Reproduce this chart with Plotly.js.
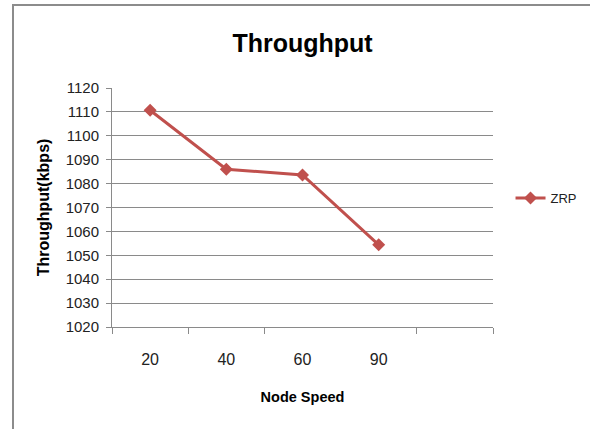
<!DOCTYPE html>
<html>
<head>
<meta charset="utf-8">
<script src="https://cdn.plot.ly/plotly-3.0.1.min.js"></script>
<style>
  html, body { margin: 0; padding: 0; background: #fff; }
  #wrap { position: relative; width: 590px; height: 429px; }
  #chart { width: 590px; height: 429px; }
  #frame { position: absolute; left: 12px; top: 4px; right: 0; bottom: 0;
           border-top: 2px solid #8c8c8c; border-left: 2px solid #8c8c8c;
           pointer-events: none; }
</style>
</head>
<body>
<div id="wrap">
  <div id="chart"></div>
  <div id="frame"></div>
</div>
<script>
// Data
const categories = ['20', '40', '60', '90'];
const zrpThroughput = [1110.7, 1086.0, 1083.6, 1054.4];
const seriesName = 'ZRP';
const yTicks = [1020, 1030, 1040, 1050, 1060, 1070, 1080, 1090, 1100, 1110, 1120];
// category boundaries that show tick marks in the reference (slot count = 5)
const slotCount = 5;
const boundaryTicks = [0.5, 1.5, 2.5, 4.5, 5.5];

const xPos = categories.map((c, i) => i + 1);

const trace = {
  x: xPos,
  y: zrpThroughput,
  name: seriesName,
  type: 'scatter',
  mode: 'lines+markers',
  line: { color: '#C0504D', width: 3 },
  marker: { symbol: 'diamond', size: 10, color: '#C0504D' },
  hoverinfo: 'x+y'
};

const gray = '#8a8a8a';

const layout = {
  width: 590,
  height: 429,
  margin: { l: 112, r: 97, t: 88, b: 102, autoexpand: false },
  paper_bgcolor: '#ffffff',
  plot_bgcolor: '#ffffff',
  font: { family: 'Liberation Sans, Arial, sans-serif', color: '#222' },
  title: {
    text: 'Throughput',
    font: { family: 'Liberation Sans, Arial, sans-serif', size: 25, color: '#000', weight: 'bold' },
    x: 0.5, xref: 'paper', xanchor: 'center',
    y: 0.9, yref: 'container', yanchor: 'middle'
  },
  xaxis: {
    range: [0.5, slotCount + 0.5],
    tickmode: 'array',
    tickvals: xPos,
    ticktext: categories,
    ticks: '',
    tickfont: { family: 'Liberation Sans, Arial, sans-serif', size: 16, color: '#222' },
    ticklabelstandoff: 18,
    showgrid: false,
    zeroline: false,
    showline: true,
    linecolor: gray,
    linewidth: 1,
    minor: { tickmode: 'array', tickvals: boundaryTicks, ticks: 'outside', ticklen: 6, tickcolor: gray, tickwidth: 1, showgrid: false },
    title: {
      text: 'Node Speed',
      font: { family: 'Liberation Sans, Arial, sans-serif', size: 14.5, color: '#000', weight: 'bold' },
      standoff: 24
    },
    fixedrange: true
  },
  yaxis: {
    range: [1020, 1120],
    tickmode: 'array',
    tickvals: yTicks,
    ticks: 'outside',
    ticklen: 5,
    tickcolor: gray,
    tickfont: { family: 'Liberation Sans, Arial, sans-serif', size: 15, color: '#222' },
    ticklabelstandoff: 4,
    showgrid: true,
    gridcolor: gray,
    gridwidth: 1,
    zeroline: false,
    showline: true,
    linecolor: gray,
    linewidth: 1,
    title: {
      text: 'Throughput(kbps)',
      font: { family: 'Liberation Sans, Arial, sans-serif', size: 16, color: '#000', weight: 'bold' },
      standoff: 12
    },
    fixedrange: true
  },
  showlegend: true,
  legend: {
    x: 1.046, xref: 'paper', xanchor: 'left',
    y: 0.54, yref: 'paper', yanchor: 'middle',
    font: { family: 'Liberation Sans, Arial, sans-serif', size: 13, color: '#222' },
    bgcolor: 'rgba(0,0,0,0)',
    borderwidth: 0
  }
};

Plotly.newPlot('chart', [trace], layout, { displayModeBar: false, staticPlot: true });
</script>
</body>
</html>
